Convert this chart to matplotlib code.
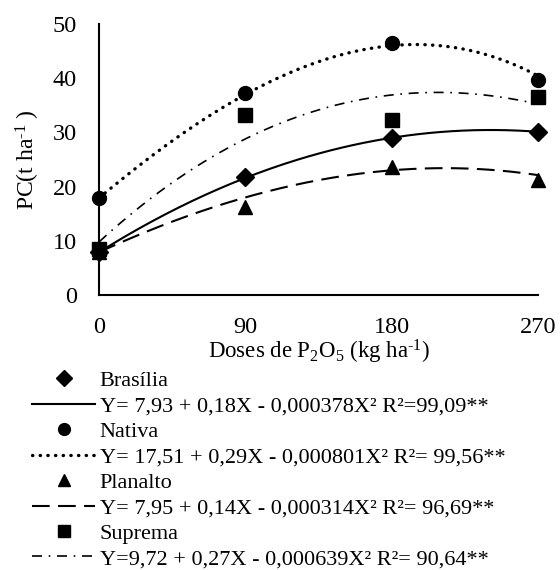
import numpy as np
import matplotlib
matplotlib.use('Agg')
import matplotlib.pyplot as plt
from matplotlib.lines import Line2D

plt.rcParams['font.family'] = ['Liberation Serif', 'DejaVu Serif']
plt.rcParams['mathtext.fontset'] = 'custom'
plt.rcParams['mathtext.rm'] = 'Liberation Serif'
plt.rcParams['mathtext.it'] = 'Liberation Serif:italic'

# Data
doses = [0, 90, 180, 270]
brasilia = [8.0, 21.7, 29.0, 30.1]
nativa = [17.9, 37.2, 46.4, 39.7]
planalto = [8.0, 16.3, 23.6, 21.3]
suprema = [8.4, 33.2, 32.3, 36.5]

# fitted curve heights read at each dose
fit_brasilia = [7.9, 21.6, 29.0, 30.1]
fit_nativa = [17.9, 37.0, 46.0, 40.4]
fit_planalto = [7.9, 18.0, 23.0, 22.1]
fit_suprema = [9.8, 28.8, 36.9, 35.2]

labels = ['Brasília', 'Nativa', 'Planalto', 'Suprema']
equations = ['Y= 7,93 + 0,18X - 0,000378X² R²=99,09**',
             'Y= 17,51 + 0,29X - 0,000801X² R²= 99,56**',
             'Y= 7,95 + 0,14X - 0,000314X² R²= 96,69**',
             'Y=9,72 + 0,27X - 0,000639X² R²= 90,64**']

fig = plt.figure(figsize=(5.6, 5.7), dpi=100)
ax = fig.add_axes([0.177, 0.4825, 0.784, 0.4755])

markers = ['D', 'o', '^', 's']
msizes = [9, 10, 10, 9.5]
styles = [dict(linestyle='-', linewidth=1.5),
          dict(linestyle=(0, (0.1, 2.2)), linewidth=2.4, dash_capstyle='round'),
          dict(linestyle=(0, (8.5, 4)), linewidth=1.5),
          dict(linestyle=(0, (6, 4, 1, 4)), linewidth=1.2)]

xs = np.linspace(0, 270, 200)
handles = []
for obs, fit, m, ms, st in zip([brasilia, nativa, planalto, suprema],
                               [fit_brasilia, fit_nativa, fit_planalto, fit_suprema],
                               markers, msizes, styles):
    coef = np.polyfit(doses, fit, 3)
    ax.plot(xs, np.polyval(coef, xs), color='black', **st)
    ax.plot(doses, obs, linestyle='none', marker=m, markersize=ms, color='black', clip_on=False)
    handles.append(Line2D([], [], linestyle='none', marker=m, markersize=ms * 0.85, color='black'))
    handles.append(Line2D([], [], color='black', **st))

ax.set_xlim(0, 270)
ax.set_ylim(0, 50)
ax.set_xticks(doses)
ax.set_yticks([0, 10, 20, 30, 40, 50])
ax.tick_params(length=0, labelsize=17.5)
ax.tick_params(axis='x', pad=16)
ax.tick_params(axis='y', pad=16)
ax.spines['top'].set_visible(False)
ax.spines['right'].set_visible(False)
for s in ['left', 'bottom']:
    ax.spines[s].set_linewidth(1.5)

ax.set_ylabel('PC(t ha$^{\\text{-1}}$ )', fontsize=17, labelpad=8)
ax.set_xlabel('Doses de P$_2$O$_5$ (kg ha$^{\\text{-1}}$)', fontsize=16.5, labelpad=0)

leg_labels = []
for name, eq in zip(labels, equations):
    leg_labels += [name, eq]
fig.legend(handles, leg_labels, loc='upper left', bbox_to_anchor=(0.057, 0.35),
           frameon=False, fontsize=16, borderpad=0, borderaxespad=0,
           handlelength=2.85, handletextpad=0.2, labelspacing=0.22)

plt.savefig('out.png', dpi=100)
